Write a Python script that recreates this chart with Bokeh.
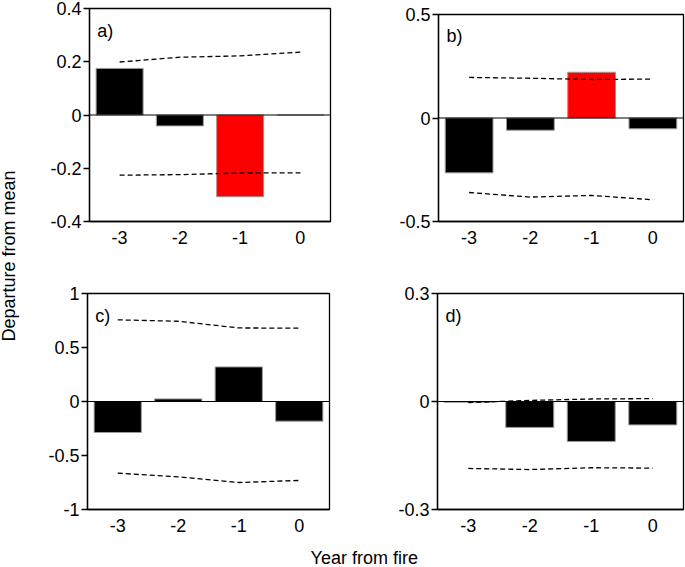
import math

from bokeh.plotting import figure
from bokeh.layouts import row, column
from bokeh.models import Range1d, FixedTicker, Span, Label
from bokeh.embed import file_html
from bokeh.resources import INLINE

FONT = "Liberation Sans"
SIZE = "18px"

# years relative to the fire
years = [-3, -2, -1, 0]
year_labels = ["-3", "-2", "-1", "0"]

# a) departure from mean, with upper / lower dashed limits
a_bars = [0.175, -0.041, -0.307, 0.0]
a_colors = ["black", "black", "red", "black"]
a_upper = [0.199, 0.217, 0.222, 0.236]
a_lower = [-0.226, -0.224, -0.218, -0.217]
a_yticks = [-0.4, -0.2, 0, 0.2, 0.4]
a_ylabels = ["-0.4", "-0.2", "0", "0.2", "0.4"]

# b)
b_bars = [-0.265, -0.059, 0.221, -0.052]
b_colors = ["black", "black", "red", "black"]
b_upper = [0.196, 0.192, 0.186, 0.188]
b_lower = [-0.360, -0.382, -0.374, -0.395]
b_yticks = [-0.5, 0, 0.5]
b_ylabels = ["-0.5", "0", "0.5"]

# c)
c_bars = [-0.287, 0.024, 0.320, -0.182]
c_colors = ["black", "black", "black", "black"]
c_upper = [0.756, 0.743, 0.681, 0.679]
c_lower = [-0.664, -0.698, -0.750, -0.731]
c_yticks = [-1, -0.5, 0, 0.5, 1]
c_ylabels = ["-1", "-0.5", "0", "0.5", "1"]

# d)
d_bars = [-0.002, -0.072, -0.111, -0.065]
d_colors = ["black", "black", "black", "black"]
d_upper = [-0.003, 0.003, 0.007, 0.008]
d_lower = [-0.186, -0.189, -0.184, -0.185]
d_yticks = [-0.3, 0, 0.3]
d_ylabels = ["-0.3", "0", "0.3"]


def panel(letter, bars, colors, upper, lower, yticks, ylabels,
          width, height, left, right, top, bottom):
    lo, hi = yticks[0], yticks[-1]
    p = figure(width=width, height=height, title=None,
               x_range=Range1d(-3.5, 0.5), y_range=Range1d(lo, hi),
               output_backend="svg", toolbar_location=None,
               min_border_left=left, min_border_right=right,
               min_border_top=top, min_border_bottom=bottom)
    p.grid.visible = False
    p.outline_line_color = "black"
    p.outline_line_width = 1.3
    p.outline_line_alpha = 1.0

    p.vbar(x=years, top=bars, bottom=0, width=0.78,
           fill_color=colors, line_color="#9a9a9a", line_width=1)
    p.line(years, upper, line_color="black", line_width=1.3, line_dash="5 3")
    p.line(years, lower, line_color="black", line_width=1.3, line_dash="5 3")
    p.add_layout(Span(location=0, dimension="width",
                      line_color="black", line_width=1))

    p.xaxis.ticker = FixedTicker(ticks=years)
    p.xaxis.major_label_overrides = dict(zip(years, year_labels))
    p.xaxis.major_tick_line_color = None
    p.xaxis.major_tick_out = 0
    p.xaxis.major_label_standoff = 9

    p.yaxis.ticker = FixedTicker(ticks=yticks)
    p.yaxis.major_label_overrides = dict(zip(yticks, ylabels))
    p.yaxis.major_tick_out = 6
    p.yaxis.major_tick_in = 0
    p.yaxis.major_label_standoff = 2

    p.axis.minor_tick_line_color = None
    p.axis.axis_line_color = "black"
    p.axis.axis_line_width = 1.3
    p.yaxis.major_tick_line_color = "black"
    p.yaxis.major_tick_line_width = 1.3
    p.axis.major_label_text_font = FONT
    p.axis.major_label_text_font_size = SIZE
    p.axis.major_label_text_color = "black"

    p.add_layout(Label(x=-3.5 + 0.13, y=hi - 0.105 * (hi - lo),
                       text=letter, text_font=FONT, text_font_size=SIZE,
                       text_color="black", text_baseline="middle"))
    return p


pa = panel("a)", a_bars, a_colors, a_upper, a_lower, a_yticks, a_ylabels,
           315, 261, 59, 15, 14, 34)
# the axis labels force a 14px top border; pull panel a) up to match
pa.margin = (-6, 0, 0, 0)
pb = panel("b)", b_bars, b_colors, b_upper, b_lower, b_yticks, b_ylabels,
           340, 255, 93, 2, 13, 31)
pc = panel("c)", c_bars, c_colors, c_upper, c_lower, c_yticks, c_ylabels,
           315, 285, 57, 16, 38, 31)
pd = panel("d)", d_bars, d_colors, d_upper, d_lower, d_yticks, d_ylabels,
           340, 285, 92, 2, 38, 31)


def text_box(text, width, height, x, y, angle=0.0):
    t = figure(width=width, height=height, title=None,
               x_range=Range1d(0, 1), y_range=Range1d(0, 1),
               x_axis_location=None, y_axis_location=None,
               output_backend="svg", toolbar_location=None,
               min_border=0, outline_line_color=None)
    t.grid.visible = False
    t.add_layout(Label(x=x, y=y, text=text, angle=angle,
                       text_font=FONT, text_font_size=SIZE,
                       text_color="black", text_align="center",
                       text_baseline="middle"))
    return t


ylab = text_box("Departure from mean", 30, 540, 0.28, 0.527, math.pi / 2)
xlab = text_box("Year from fire", 685, 27, 0.531, 0.36)

layout = column(row(ylab, column(row(pa, pb), row(pc, pd))), xlab)

open("out.html", "w").write(file_html(layout, INLINE))
